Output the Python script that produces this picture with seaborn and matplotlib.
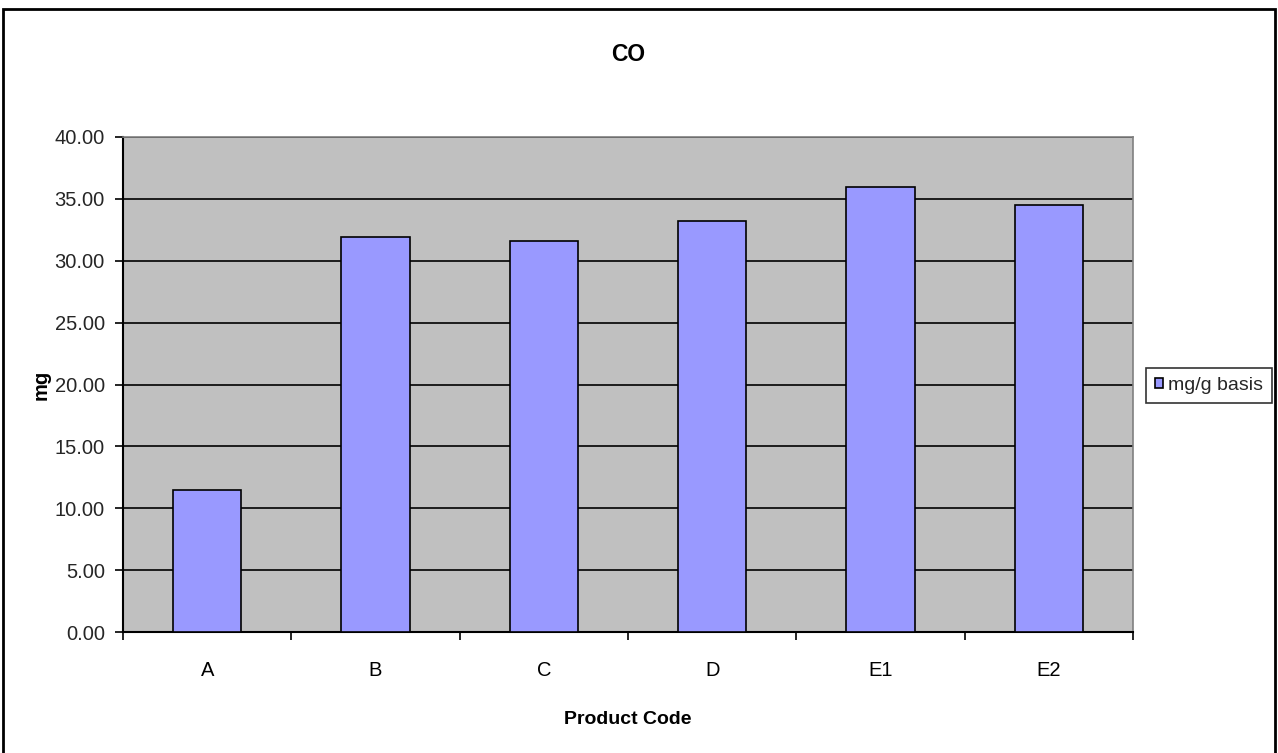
import matplotlib
matplotlib.use("Agg")
import matplotlib.pyplot as plt
import seaborn as sns
import pandas as pd
from matplotlib.patches import Rectangle
from matplotlib.ticker import MultipleLocator, FixedLocator

categories = ["A", "B", "C", "D", "E1", "E2"]
values = [11.50, 31.95, 31.60, 33.22, 35.95, 34.50]
series_name = "mg/g basis"

df = pd.DataFrame({"Product Code": categories, "value": values, "series": series_name})

sns.set_theme(style="white")
plt.rcParams["font.family"] = ["Liberation Sans", "DejaVu Sans"]

W, H = 1278, 753
fig = plt.figure(figsize=(W / 100, H / 100), dpi=100)
ax = fig.add_axes([123 / W, 1 - 632 / H, (1133 - 123) / W, (632 - 137) / H])

sns.barplot(data=df, x="Product Code", y="value", hue="series", ax=ax,
            palette=["#9999FF"], width=0.405, edgecolor="black", linewidth=1.2,
            saturation=1, legend=True, zorder=3)

ax.set_facecolor("#C0C0C0")
ax.set_ylim(0, 40)
ax.set_xlim(-0.5, len(categories) - 0.5)
ax.yaxis.set_major_locator(MultipleLocator(5))
ax.set_yticklabels([f"{t:.2f}" for t in ax.get_yticks()])
ax.grid(axis="y", color="black", linewidth=1.2, zorder=1)
ax.set_axisbelow(True)

ax.xaxis.set_minor_locator(FixedLocator([i - 0.5 for i in range(len(categories) + 1)]))
ax.tick_params(axis="x", which="major", length=0, pad=21, labelsize=14.5, colors="black")
ax.tick_params(axis="x", which="minor", length=6, width=1.2, direction="out", color="black", bottom=True)
ax.tick_params(axis="y", which="major", length=6, width=1.2, direction="out", color="black",
               left=True, labelsize=14.5, pad=7)

for s in ["left", "bottom"]:
    ax.spines[s].set_color("black")
    ax.spines[s].set_linewidth(1.5)
for s in ["top", "right"]:
    ax.spines[s].set_color("#808080")
    ax.spines[s].set_linewidth(1.2)

ax.set_xlabel("Product Code", fontsize=14, fontweight="bold", labelpad=22, color="black")
ax.set_ylabel("mg", fontsize=14.5, fontweight="bold", labelpad=3, color="black")
ax.set_title("CO", fontsize=16.5, fontweight="bold", pad=55, color="black")

handles, labels = ax.get_legend_handles_labels()
ax.get_legend().remove()
leg = fig.legend(handles, labels, loc="center",
                 bbox_to_anchor=(1209 / W, 1 - 385.5 / H), frameon=True, fancybox=False,
                 fontsize=14, handlelength=0.45, handleheight=0.45, handletextpad=0.25,
                 borderpad=0.45, borderaxespad=0)
leg.get_frame().set_edgecolor("black")
leg.get_frame().set_linewidth(1.2)

fig.patches.append(Rectangle((3 / W, -0.01), (1275 - 3) / W, 1 - 9 / H + 0.01,
                             transform=fig.transFigure, fill=False,
                             edgecolor="black", linewidth=2, clip_on=False))

fig.savefig("out.png", dpi=100)
